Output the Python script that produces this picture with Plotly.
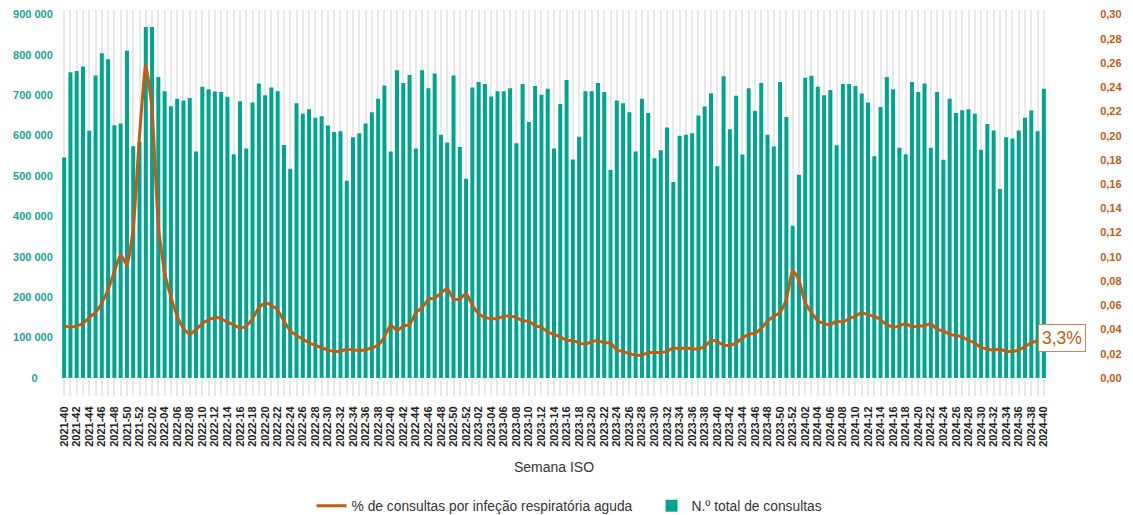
import plotly.graph_objects as go

# semanas ISO 2021-40 .. 2024-40
anos_semanas = [(2021, 40, 52), (2022, 1, 52), (2023, 1, 52), (2024, 1, 40)]
semanas = [f"{a}-{s:02d}" for a, ini, fim in anos_semanas for s in range(ini, fim + 1)]

# N.º total de consultas (milhares)
consultas_2021 = [546, 757, 760, 771, 612, 749, 804, 789, 626, 630, 810, 574, 584]
consultas_2022 = [869, 869, 745, 710, 673, 691, 687, 693, 561, 721,
                  715, 709, 708, 696, 554, 685, 568, 682, 729, 700,
                  719, 710, 577, 518, 680, 654, 665, 644, 648, 625,
                  609, 611, 488, 596, 606, 630, 658, 691, 724, 561,
                  762, 730, 750, 568, 762, 717, 754, 602, 583, 749, 572, 493]
consultas_2023 = [719, 733, 728, 697, 710, 710, 717, 581, 728, 634,
                  723, 701, 716, 568, 678, 738, 541, 597, 710, 710,
                  730, 708, 515, 687, 680, 658, 561, 691, 656, 544,
                  564, 620, 485, 600, 602, 606, 650, 672, 705, 524,
                  747, 616, 699, 553, 717, 661, 730, 602, 573, 733, 646, 377]
consultas_2024 = [503, 743, 748, 721, 700, 713, 576, 728, 728, 723,
                  704, 682, 549, 671, 745, 715, 570, 554, 733, 708,
                  729, 570, 708, 540, 691, 656, 663, 665, 654, 565,
                  629, 613, 468, 596, 593, 613, 644, 662, 611, 716]

# % de consultas por infeção respiratória aguda (proporção)
ira_2021 = [0.043, 0.042, 0.043, 0.045, 0.050, 0.054, 0.062, 0.073, 0.088, 0.102, 0.093, 0.123, 0.200]
ira_2022 = [0.259, 0.222, 0.125, 0.087, 0.067, 0.051, 0.041, 0.036, 0.040, 0.045,
            0.048, 0.050, 0.049, 0.046, 0.044, 0.041, 0.043, 0.049, 0.058, 0.062,
            0.060, 0.056, 0.047, 0.039, 0.035, 0.032, 0.029, 0.027, 0.025, 0.023,
            0.022, 0.022, 0.024, 0.023, 0.023, 0.023, 0.025, 0.027, 0.034, 0.044,
            0.039, 0.043, 0.044, 0.054, 0.058, 0.065, 0.066, 0.070, 0.074, 0.065, 0.065, 0.070]
ira_2023 = [0.060, 0.053, 0.050, 0.049, 0.049, 0.051, 0.051, 0.050, 0.047, 0.047,
            0.043, 0.042, 0.038, 0.036, 0.034, 0.031, 0.031, 0.029, 0.028, 0.030,
            0.031, 0.029, 0.029, 0.023, 0.022, 0.020, 0.019, 0.019, 0.021, 0.021,
            0.021, 0.022, 0.025, 0.024, 0.025, 0.024, 0.024, 0.026, 0.031, 0.030,
            0.027, 0.027, 0.029, 0.033, 0.036, 0.037, 0.041, 0.047, 0.051, 0.054, 0.065, 0.089]
ira_2024 = [0.081, 0.062, 0.054, 0.047, 0.045, 0.044, 0.047, 0.046, 0.049, 0.051,
            0.054, 0.052, 0.051, 0.048, 0.044, 0.042, 0.043, 0.045, 0.042, 0.043,
            0.043, 0.045, 0.040, 0.039, 0.036, 0.035, 0.034, 0.031, 0.029, 0.025,
            0.024, 0.023, 0.024, 0.022, 0.022, 0.023, 0.026, 0.029, 0.031, 0.033]

# eixo esquerdo
y_ticks = [0, 100000, 200000, 300000, 400000, 500000, 600000, 700000, 800000, 900000]
y_ticktext = ["0" + "\u00a0" * 5] + [f"{v:,}".replace(",", " ") for v in y_ticks[1:]]

consultas = [v * 1000 for v in consultas_2021 + consultas_2022 + consultas_2023 + consultas_2024]
ira = ira_2021 + ira_2022 + ira_2023 + ira_2024

TEAL = "#00a591"
ORANGE = "#c55a11"
FONT = "Liberation Sans, Arial, sans-serif"

ticktext = [s if i % 2 == 0 else "" for i, s in enumerate(semanas)]

fig = go.Figure()
fig.add_trace(go.Bar(x=semanas, y=consultas, name="N.º total de consultas",
                     marker=dict(color=TEAL, line=dict(width=0)), legendrank=2))
fig.add_trace(go.Scatter(x=semanas, y=ira, yaxis="y2", mode="lines",
                         name="% de consultas por infeção respiratória aguda",
                         line=dict(color=ORANGE, width=3, shape="spline", smoothing=0.4),
                         legendrank=1))

fig.add_annotation(x=semanas[-1], y=ira[-1], xref="x", yref="y2", text="3,3%",
                   showarrow=False, xanchor="left", xshift=-6,
                   font=dict(family=FONT, size=17.5, color=ORANGE),
                   bgcolor="white", bordercolor="#d9864d", borderwidth=1, borderpad=3)

fig.update_layout(
    width=1133, height=515,
    margin=dict(l=61, r=86, t=10, b=137),
    plot_bgcolor="white", paper_bgcolor="white",
    separators=", ",
    bargap=0.36,
    font=dict(family=FONT, color="#333"),
    xaxis=dict(type="category", tickmode="array", tickvals=semanas, ticktext=ticktext,
               range=[-0.5, len(semanas) - 0.5], autorange=False,
               tickangle=-90, ticks="outside", ticklen=17, tickwidth=2, tickcolor="#e8e8e8",
               ticklabelstandoff=6, automargin=False,
               showgrid=True, gridcolor="#e8e8e8", gridwidth=2,
               tickfont=dict(family=FONT, size=11, color="#222", weight="bold"),
               title=dict(text="Semana ISO", font=dict(family=FONT, size=14, color="#333"), standoff=16)),
    yaxis=dict(range=[0, 911000], tickmode="array", tickvals=y_ticks, ticktext=y_ticktext,
               showgrid=False, zeroline=False,
               ticks="outside", ticklen=5, tickcolor="rgba(0,0,0,0)", automargin=False,
               tickfont=dict(family=FONT, size=11, color="#1aa395", weight="bold")),
    yaxis2=dict(range=[0, 0.3037], dtick=0.02, tickformat=".2f", overlaying="y", side="right",
                showgrid=False, zeroline=False, ticks="outside", ticklen=50, tickcolor="rgba(0,0,0,0)",
                automargin=False,
                tickfont=dict(family=FONT, size=11, color=ORANGE, weight="bold")),
    legend=dict(orientation="h", xref="container", yref="container",
                x=0.275, xanchor="left", y=0.018, yanchor="middle",
                entrywidth=295, entrywidthmode="pixels",
                font=dict(family=FONT, size=13.8, color="#333")),
    showlegend=True,
)

fig.write_html("out.html", config={"displayModeBar": False},
               post_script="document.body.style.margin='0';")
